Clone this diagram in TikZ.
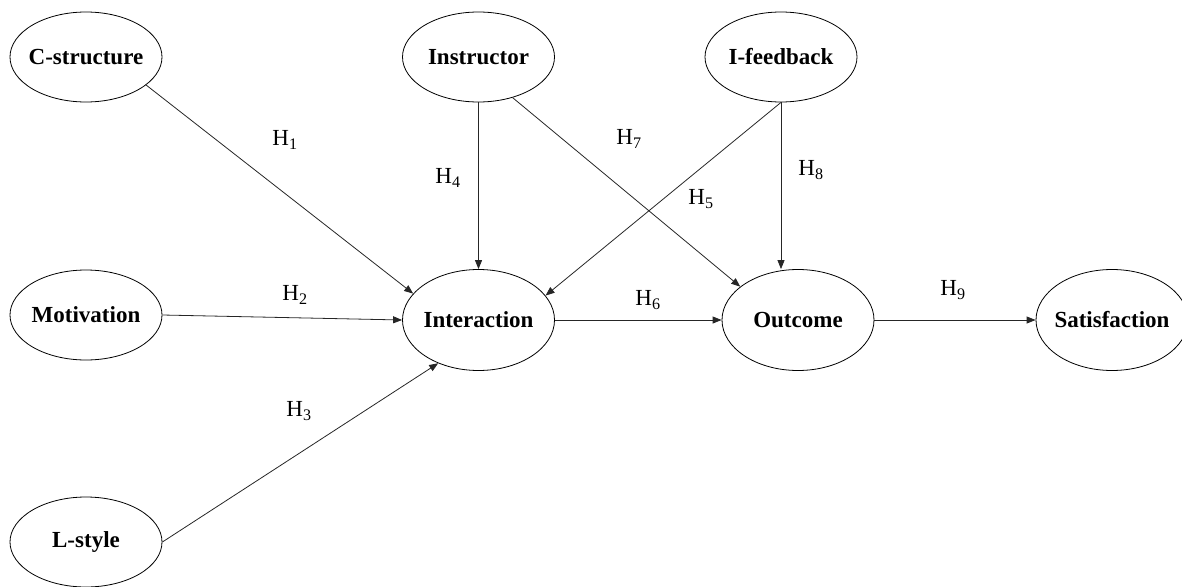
\documentclass[tikz,border=0pt]{standalone}
\usepackage{fontspec}
\setmainfont{Liberation Serif}
\usetikzlibrary{arrows.meta,shapes.geometric}

\begin{document}
\begin{tikzpicture}[
  x=1pt,y=1pt,
  lat/.style 2 args={ellipse,draw=black,line width=0.8pt,inner sep=0pt,
              minimum width=152pt,minimum height=#1,font=\fontsize{23}{26}\selectfont\bfseries},
  hyp/.style={font=\fontsize{23}{26}\selectfont,inner sep=0pt},
  ar/.style={-{Triangle[length=9pt,width=7pt]},line width=0.8pt,draw=black!85}
]
\useasboundingbox (0,0) rectangle (1182,-586);

%======================= ANTECEDENTS (left column / top row) =======================
\node[lat={90pt}{}] (cstr)  at (86,-57)    {\makebox[0pt]{C-structure}};
\node[lat={90pt}{}] (motiv) at (86,-315)   {\makebox[0pt]{Motivation}};
\node[lat={90pt}{}] (lsty)  at (86,-542)   {\makebox[0pt]{L-style}};
\node[lat={90pt}{}] (instr) at (478.5,-57) {\makebox[0pt]{Instructor}};
\node[lat={90pt}{}] (ifb)   at (781,-57)   {\makebox[0pt]{I-feedback}};

%======================= MEDIATOR / OUTCOMES (y = -320) =======================
\node[lat={101pt}{}] (inter) at (478.5,-320) {\makebox[0pt]{Interaction}};
\node[lat={101pt}{}] (outc)  at (798,-320)   {\makebox[0pt]{Outcome}};
\node[lat={101pt}{}] (satis) at (1112,-320)  {\makebox[0pt]{Satisfaction}};

%======================= PATHS =======================
\draw[ar] (cstr.-25)   -- (inter.158);
\draw[ar] (motiv.east) -- (inter.west);
\draw[ar] (lsty.east)  -- (inter.227);
\draw[ar] (instr.south) -- (inter.north);
\draw[ar] (instr.-50)  -- (outc.150);
\draw[ar] (ifb.south)  -- (inter.20);
\draw[ar] (ifb.south)  -- (ifb.south |- outc.north);
\draw[ar] (inter.east) -- (outc.west);
\draw[ar] (outc.east)  -- (satis.west);

%======================= HYPOTHESIS LABELS =======================
\node[hyp] (h1) at (285,-140) {H\textsubscript{1}};
\node[hyp] (h2) at (295,-295) {H\textsubscript{2}};
\node[hyp] (h3) at (299,-411) {H\textsubscript{3}};
\node[hyp] (h4) at (448,-178) {H\textsubscript{4}};
\node[hyp] (h5) at (701,-199) {H\textsubscript{5}};
\node[hyp] (h6) at (648,-300) {H\textsubscript{6}};
\node[hyp] (h7) at (629,-139) {H\textsubscript{7}};
\node[hyp] (h8) at (811,-170) {H\textsubscript{8}};
\node[hyp] (h9) at (953,-290) {H\textsubscript{9}};

\end{tikzpicture}
\end{document}
